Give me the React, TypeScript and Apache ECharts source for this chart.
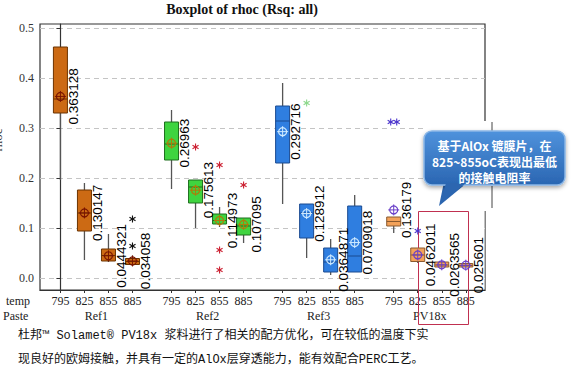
import React, { useEffect, useRef } from 'react';
import * as echarts from 'echarts';

const pastes = ['Ref1', 'Ref2', 'Ref3', 'PV18x'];
const temps = ['795', '825', '855', '885'];
const yTicks = [0, 0.1, 0.2, 0.3, 0.4, 0.5];

// [min, q1, median, q3, max] for temps 795, 825, 855, 885
const ref1Box = [
  [0.196, 0.330, 0.358, 0.462, 0.462],
  [0.036, 0.094, 0.130, 0.176, 0.190],
  [0.032, 0.034, 0.045, 0.058, 0.088],
  [0.024, 0.027, 0.033, 0.039, 0.045],
];
const ref2Box = [
  [0.178, 0.236, 0.268, 0.312, 0.336],
  [0.100, 0.150, 0.182, 0.196, 0.196],
  [0.102, 0.108, 0.115, 0.128, 0.142],
  [0.070, 0.086, 0.104, 0.120, 0.120],
];
const ref3Box = [
  [0.148, 0.230, 0.314, 0.344, 0.390],
  [0.040, 0.080, 0.130, 0.148, 0.148],
  [0.006, 0.012, 0.032, 0.060, 0.078],
  [0.012, 0.012, 0.044, 0.144, 0.166],
];
const pv18xBox = [
  [0.090, 0.104, 0.113, 0.122, 0.122],
  [0.030, 0.033, 0.046, 0.060, 0.060],
  [0.022, 0.022, 0.026, 0.032, 0.032],
  [0.022, 0.022, 0.025, 0.029, 0.030],
];

const ref1Mean = [0.363128, 0.130147, 0.0444321, 0.034058];
const ref2Mean = [0.26963, 0.175613, 0.114973, 0.107095];
const ref3Mean = [0.292716, 0.128912, 0.0364871, 0.0709018];
const pv18xMean = [0.136179, 0.0462011, 0.0263565, 0.025601];

const ref1Out = [[], [], [], [0.118, 0.064]];
const ref2Out = [[], [0.262], [0.226, 0.056, 0.016], [0.186]];
const ref3Out = [[], [0.35], [], []];
const pv18xOut = [[0.312, 0.312], [0.094], [], []];

const boxes = [ref1Box, ref2Box, ref3Box, pv18xBox];
const means = [ref1Mean, ref2Mean, ref3Mean, pv18xMean];
const outs = [ref1Out, ref2Out, ref3Out, pv18xOut];

const groupStyles = [
  { fill: '#cc6a14', stroke: '#6b3300', mean: '#7a1500', outlier: '#111111' },
  { fill: '#3fd43f', stroke: '#1f6f1f', mean: '#b07a0b', outlier: '#cc2233' },
  { fill: '#2f7ee0', stroke: '#1a4a90', mean: '#cfeaff', outlier: '#8cd88c' },
  { fill: '#f3a25a', stroke: '#8a5a30', mean: '#6a3fc8', outlier: '#4a33cc' },
];

const STRIDE = 4.625;
const X_MIN = -0.85;
const X_MAX = 3 * STRIDE + 3 + 0.8;
const slotX = (g: number, i: number) => g * STRIDE + i;
const slotXs: number[] = [];
const slotLabels: string[] = [];
pastes.forEach((_, g) => temps.forEach((t, i) => { slotXs.push(slotX(g, i)); slotLabels.push(t); }));
const groupCenters = pastes.map((_, g) => slotX(g, 1.5));

const serif = '"Liberation Serif", "Times New Roman", serif';

export default function App() {
  const ref = useRef<HTMLDivElement>(null);
  useEffect(() => {
    if (!ref.current) return;
    const chart = echarts.init(ref.current, undefined, { renderer: 'svg' });

    const series: any[] = [];
    pastes.forEach((p, g) => {
      const st = groupStyles[g];
      series.push({
        type: 'custom',
        name: p + ' box',
        xAxisIndex: 0,
        yAxisIndex: 0,
        encode: { x: 0, y: [1, 2, 3, 4, 5] },
        data: boxes[g].map((b, i) => [slotX(g, i), ...b]),
        renderItem: (params: any, api: any) => {
          const x = api.value(0);
          const pMin = api.coord([x, api.value(1)]);
          const cx = pMin[0];
          const yMin = pMin[1];
          const yQ1 = api.coord([x, api.value(2)])[1];
          const yMed = api.coord([x, api.value(3)])[1];
          const yQ3 = api.coord([x, api.value(4)])[1];
          const yMax = api.coord([x, api.value(5)])[1];
          const hw = 7;
          return {
            type: 'group',
            children: [
              { type: 'line', shape: { x1: cx, y1: yMax, x2: cx, y2: yQ3 }, style: { stroke: '#555', lineWidth: 1.3 } },
              { type: 'line', shape: { x1: cx, y1: yQ1, x2: cx, y2: yMin }, style: { stroke: '#555', lineWidth: 1.3 } },
              { type: 'rect', shape: { x: cx - hw, y: yQ3, width: hw * 2, height: Math.max(yQ1 - yQ3, 1) }, style: { fill: st.fill, stroke: st.stroke, lineWidth: 1 } },
              { type: 'line', shape: { x1: cx - hw, y1: yMed, x2: cx + hw, y2: yMed }, style: { stroke: st.stroke, lineWidth: 1 } },
            ],
          };
        },
        z: 2,
      });
      const outData: number[][] = [];
      outs[g].forEach((list, i) => {
        list.forEach((v, k) => outData.push([slotX(g, i), v, k, list.filter((w) => w === v).length, list.indexOf(v)]));
      });
      series.push({
        type: 'custom',
        name: p + ' outliers',
        xAxisIndex: 0,
        yAxisIndex: 0,
        encode: { x: 0, y: 1 },
        data: outData,
        renderItem: (params: any, api: any) => {
          const c = api.coord([api.value(0), api.value(1)]);
          const dupCount = api.value(3);
          const dupIdx = api.value(2) - api.value(4);
          const cx = c[0] + (dupIdx - (dupCount - 1) / 2) * 6;
          const cy = c[1];
          const r = 3.5;
          const children: any[] = [];
          [90, 30, 150].forEach((a) => {
            const rad = (a * Math.PI) / 180;
            children.push({
              type: 'line',
              shape: { x1: cx - r * Math.cos(rad), y1: cy - r * Math.sin(rad), x2: cx + r * Math.cos(rad), y2: cy + r * Math.sin(rad) },
              style: { stroke: st.outlier, lineWidth: 1.1 },
            });
          });
          return { type: 'group', children };
        },
        z: 3,
      });
      series.push({
        type: 'custom',
        name: p + ' mean',
        xAxisIndex: 0,
        yAxisIndex: 0,
        encode: { x: 0, y: 1 },
        data: means[g].map((m, i) => [slotX(g, i), m]),
        renderItem: (params: any, api: any) => {
          const c = api.coord([api.value(0), api.value(1)]);
          const cx = c[0];
          const cy = c[1];
          return {
            type: 'group',
            children: [
              { type: 'circle', shape: { cx, cy, r: 4 }, style: { fill: 'rgba(0,0,0,0)', stroke: st.mean, lineWidth: 1.2 } },
              { type: 'line', shape: { x1: cx - 5.5, y1: cy, x2: cx + 5.5, y2: cy }, style: { stroke: st.mean, lineWidth: 1 } },
              { type: 'line', shape: { x1: cx, y1: cy - 5.5, x2: cx, y2: cy + 5.5 }, style: { stroke: st.mean, lineWidth: 1 } },
              {
                type: 'text',
                x: cx + 13,
                y: cy,
                rotation: Math.PI / 2,
                style: {
                  text: String(api.value(1)),
                  fill: '#000',
                  font: '13.5px "Liberation Sans", Arial, sans-serif',
                  align: 'center',
                  verticalAlign: 'middle',
                  textAlign: 'center',
                  textVerticalAlign: 'middle',
                },
              },
            ],
          };
        },
        z: 4,
      });
    });

    const findLabel = (v: number, xs: number[], labels: string[]) => {
      const idx = xs.findIndex((x) => Math.abs(x - v) < 0.01);
      return idx >= 0 ? labels[idx] : '';
    };

    const calloutFill = new echarts.graphic.LinearGradient(0, 0, 0, 1, [
      { offset: 0, color: '#4f92dc' },
      { offset: 1, color: '#2a66b2' },
    ]);

    const calloutFont = 'bold 12px "Noto Sans CJK SC", sans-serif';
    const noteFont = '12px "Liberation Mono", "Noto Sans CJK SC", monospace';

    chart.setOption({
      animation: false,
      backgroundColor: '#ffffff',
      grid: { left: 40, top: 24, width: 445, height: 266, show: true, borderColor: '#333', borderWidth: 1.2, backgroundColor: 'transparent' },
      xAxis: [
        {
          type: 'value',
          min: X_MIN,
          max: X_MAX,
          position: 'bottom',
          axisLine: { show: true, onZero: false, lineStyle: { color: '#333', width: 1.2 } },
          splitLine: { show: false },
          axisTick: { show: true, customValues: slotXs, length: 3, lineStyle: { color: '#333' } },
          axisLabel: {
            customValues: slotXs,
            formatter: (v: number) => findLabel(v, slotXs, slotLabels),
            margin: 5,
            fontSize: 12,
            fontFamily: serif,
            color: '#222',
          },
        },
        {
          type: 'value',
          min: X_MIN,
          max: X_MAX,
          position: 'bottom',
          offset: 15,
          axisLine: { show: false },
          splitLine: { show: false },
          axisTick: { show: false, customValues: groupCenters },
          axisLabel: {
            customValues: groupCenters,
            formatter: (v: number) => findLabel(v, groupCenters, pastes),
            margin: 5,
            fontSize: 12,
            fontFamily: serif,
            color: '#222',
          },
        },
      ],
      yAxis: {
        type: 'value',
        min: -0.024,
        max: 0.508,
        axisLine: { show: true, lineStyle: { color: '#333', width: 1.2 } },
        axisTick: { show: true, customValues: yTicks, length: 4, lineStyle: { color: '#333' } },
        axisLabel: { customValues: yTicks, formatter: (v: number) => v.toFixed(1), fontSize: 12, fontFamily: serif, color: '#333', margin: 6 },
        splitLine: { show: true, lineStyle: { color: '#c4c4c4', type: [5, 4], width: 1 } },
      },
      graphic: [
        { type: 'text', x: 242, y: 9, z: 10, style: { text: 'Boxplot of rhoc (Rsq: all)', font: 'bold 14px ' + serif, fill: '#111', textAlign: 'center', textVerticalAlign: 'middle' } },
        { type: 'text', x: -3, y: 140, rotation: Math.PI / 2, z: 10, style: { text: 'rhoc', font: '13px ' + serif, fill: '#333', textAlign: 'center', textVerticalAlign: 'middle' } },
        { type: 'text', x: 6, y: 301, z: 10, style: { text: 'temp', font: '12px ' + serif, fill: '#222', textAlign: 'left', textVerticalAlign: 'middle' } },
        { type: 'text', x: 3, y: 316, z: 10, style: { text: 'Paste', font: '12px ' + serif, fill: '#222', textAlign: 'left', textVerticalAlign: 'middle' } },
        { type: 'rect', z: 1, shape: { x: 424, y: 121, width: 68, height: 90 }, style: { fill: '#ffffff' } },
        { type: 'rect', z: 1, shape: { x: 419, y: 211, width: 65.5, height: 78.5 }, style: { fill: '#ffffff' } },
        { type: 'rect', z: 1, shape: { x: 418.5, y: 211.5, width: 50, height: 113 }, style: { fill: 'none', stroke: '#c03050', lineWidth: 1 } },
        { type: 'line', z: 10, shape: { x1: 492, y1: 122, x2: 492, y2: 131 }, style: { stroke: '#444', lineWidth: 1 } },
        { type: 'line', z: 10, shape: { x1: 492, y1: 186, x2: 492, y2: 208 }, style: { stroke: '#444', lineWidth: 1 } },
        { type: 'polygon', z: 10, shape: { points: [[444, 182], [468, 182], [439, 206]] }, style: { fill: '#2c66b0' } },
        {
          type: 'rect',
          z: 10,
          shape: { x: 424, y: 131, width: 141, height: 54, r: 8 },
          style: { fill: calloutFill, stroke: '#8ab6e6', lineWidth: 1.5, shadowBlur: 4, shadowColor: 'rgba(0,0,0,0.35)', shadowOffsetY: 2 },
        },
        { type: 'polygon', z: 11, shape: { points: [[446, 183], [466, 183], [440, 204]] }, style: { fill: '#2c66b0' } },
        { type: 'text', x: 494.5, y: 145, z: 12, style: { text: '基于AlOx 镀膜片，在', font: calloutFont, fill: '#ffffff', textAlign: 'center', textVerticalAlign: 'middle' } },
        { type: 'text', x: 494.5, y: 161, z: 12, style: { text: '825~855oC表现出最低', font: calloutFont, fill: '#ffffff', textAlign: 'center', textVerticalAlign: 'middle' } },
        { type: 'text', x: 494.5, y: 177, z: 12, style: { text: '的接触电阻率', font: calloutFont, fill: '#ffffff', textAlign: 'center', textVerticalAlign: 'middle' } },
        { type: 'text', x: 18, y: 336, z: 10, style: { text: '杜邦™ Solamet® PV18x 浆料进行了相关的配方优化，可在较低的温度下实', font: noteFont, fill: '#111', textAlign: 'left', textVerticalAlign: 'middle' } },
        { type: 'text', x: 18, y: 360, z: 10, style: { text: '现良好的欧姆接触，并具有一定的AlOx层穿透能力，能有效配合PERC工艺。', font: noteFont, fill: '#111', textAlign: 'left', textVerticalAlign: 'middle' } },
      ],
      series,
    });
    return () => chart.dispose();
  }, []);
  return <div ref={ref} style={{ position: 'fixed', left: 0, top: 0, width: 578, height: 383, background: '#fff' }} />;
}
